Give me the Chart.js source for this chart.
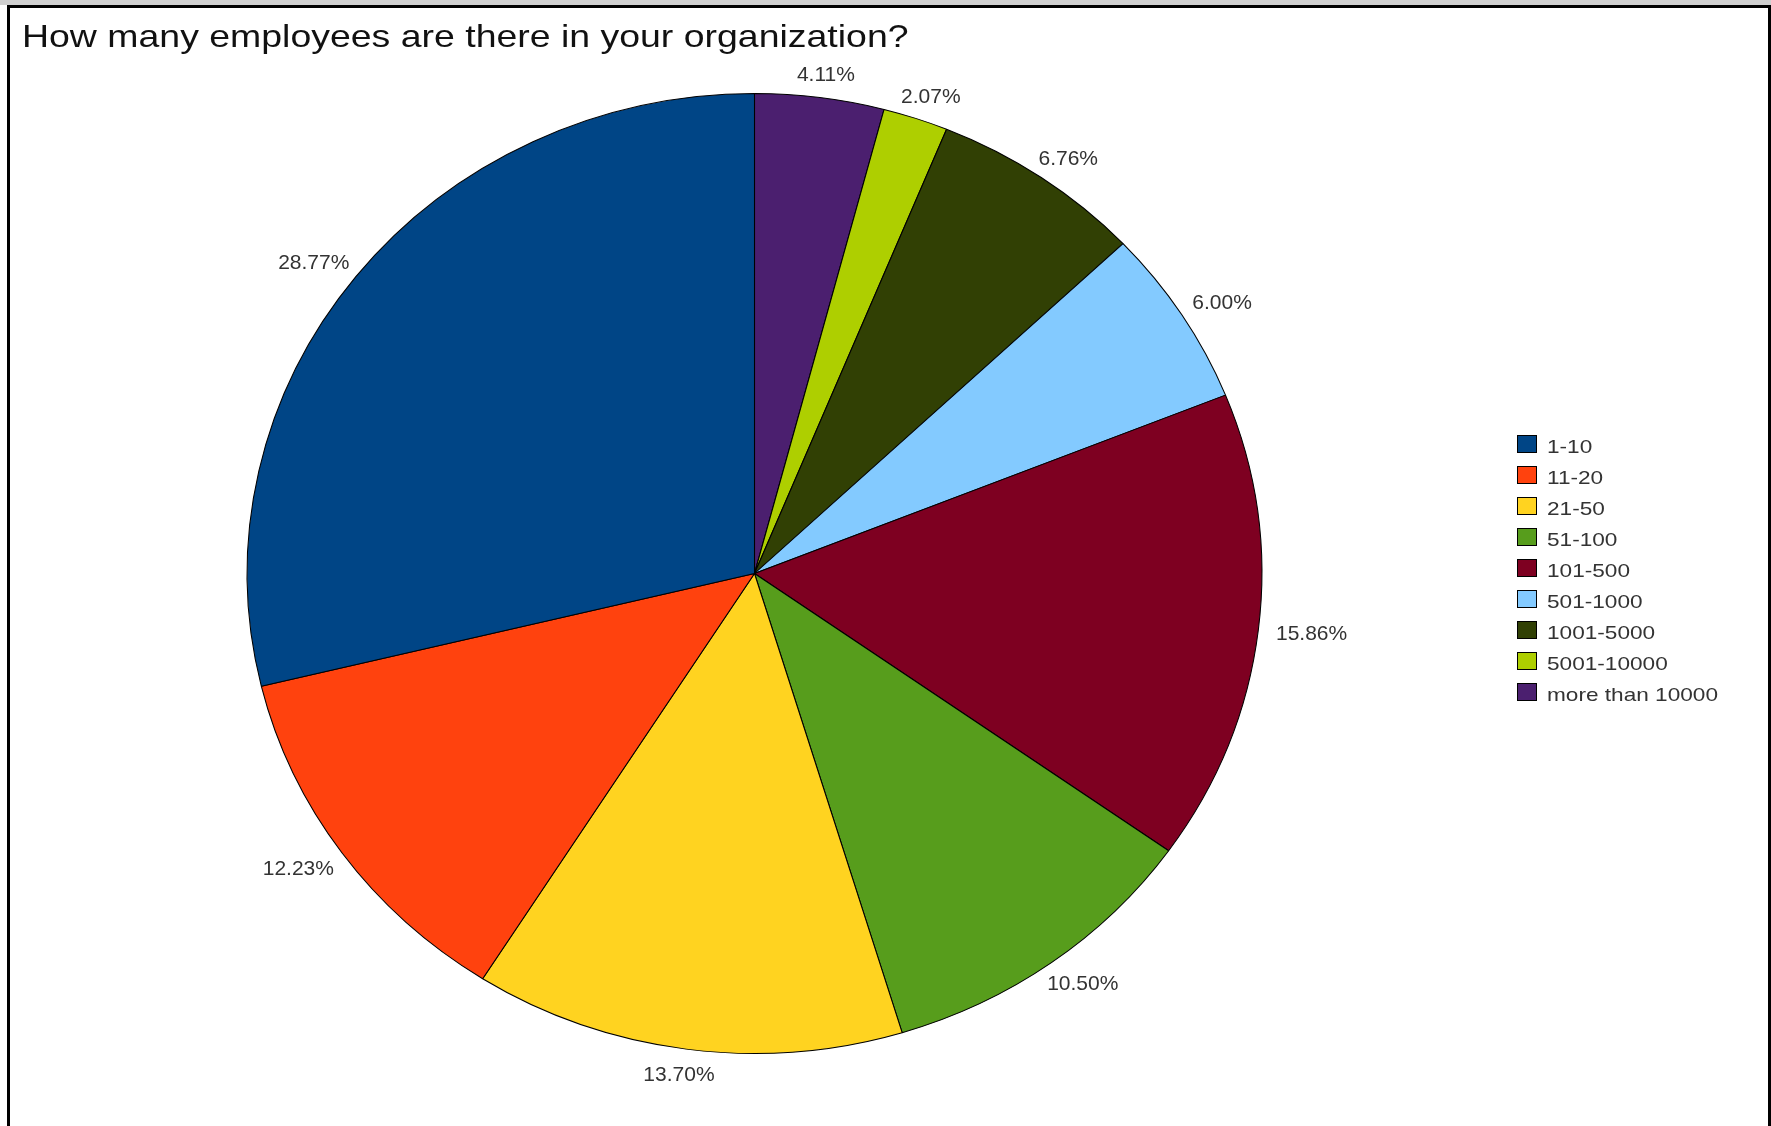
<!DOCTYPE html>
<html>
<head>
<meta charset="utf-8">
<script src="https://cdn.jsdelivr.net/npm/chart.js@4.4.1/dist/chart.umd.min.js"></script>
<style>
  html, body { margin: 0; padding: 0; background: #fff; overflow: hidden; }
  #wrap { position: relative; width: 1771px; height: 1126px; }
  #pieChart { position: absolute; left: 0; top: 0; }
  #strip { position: absolute; left: 0; top: 0; width: 1771px; height: 5px; background: #cfcfcf; }
  #frame { position: absolute; left: 7px; top: 5px; width: 1758px; height: 1121px;
           border-top: 3px solid #000; border-left: 3px solid #000; border-right: 3px solid #000;
           pointer-events: none; }
</style>
</head>
<body>
<div id="wrap">
  <canvas id="pieChart" width="1771" height="1126"></canvas>
  <div id="strip"></div>
  <div id="frame"></div>
</div>
<script>
var chartTitle = "How many employees are there in your organization?";
var categories = ["1-10", "11-20", "21-50", "51-100", "101-500", "501-1000", "1001-5000", "5001-10000", "more than 10000"];
var percentages = [28.77, 12.23, 13.70, 10.50, 15.86, 6.00, 6.76, 2.07, 4.11];
var sliceColors = ["#004586", "#ff420e", "#ffd320", "#579d1c", "#7e0021", "#83caff", "#314004", "#aecf00", "#4b1f6f"];

// the original runs counter-clockwise from 12 o'clock, chart.js runs clockwise
var pieLabels = categories.slice().reverse();
var pieValues = percentages.slice().reverse();
var pieColors = sliceColors.slice().reverse();

var stretchX = 1.057; // pie is a bit wider than tall in the picture

// the picture's text is drawn wider than the font, so squeeze it out sideways
function wideText(ctx, text, x, y, sx){
    ctx.save();
    ctx.translate(x, y);
    ctx.scale(sx, 1);
    ctx.fillText(text, 0, 0);
    ctx.restore();
}

var stretchPlugin = {
    id: 'stretch',
    beforeDatasetsDraw: function(chart){
        var arc = chart.getDatasetMeta(0).data[0];
        var ctx = chart.ctx;
        ctx.save();
        ctx.translate(arc.x, arc.y);
        ctx.scale(stretchX, 1);
        ctx.translate(-arc.x, -arc.y);
    },
    afterDatasetsDraw: function(chart){
        chart.ctx.restore();
    }
};

var textPlugin = {
    id: 'texts',
    afterDraw: function(chart){
        var ctx = chart.ctx;
        ctx.save();

        // title
        ctx.fillStyle = '#111';
        ctx.font = '32px "Liberation Sans", Arial, sans-serif';
        ctx.textAlign = 'left';
        ctx.textBaseline = 'alphabetic';
        wideText(ctx, chartTitle, 22, 47, 1.17);

        // percentage labels outside the slices
        ctx.fillStyle = '#333';
        ctx.font = '21px "Liberation Sans", Arial, sans-serif';
        ctx.textAlign = 'center';
        var meta = chart.getDatasetMeta(0);
        meta.data.forEach(function(arc, i){
            var txt = chart.data.datasets[0].data[i].toFixed(2) + '%';
            var w = ctx.measureText(txt).width;
            var h = 15;
            var a = (arc.startAngle + arc.endAngle) / 2;
            var rr = arc.outerRadius + 17;
            var cx = arc.x + rr * Math.cos(a) * stretchX + Math.cos(a) * w / 2;
            var cy = arc.y + rr * Math.sin(a) + Math.sin(a) * h / 2;
            ctx.fillText(txt, cx, cy + 7.5);
        });

        // legend
        ctx.font = '19px "Liberation Sans", Arial, sans-serif';
        ctx.textAlign = 'left';
        ctx.lineWidth = 1;
        ctx.strokeStyle = '#000';
        for (var i = 0; i < categories.length; i++) {
            var y = 435 + i * 31;
            ctx.fillStyle = sliceColors[i];
            ctx.fillRect(1517, y, 20, 18);
            ctx.strokeRect(1517.5, y + 0.5, 19, 17);
            ctx.fillStyle = '#333';
            wideText(ctx, categories[i], 1547, y + 18, 1.19);
        }
        ctx.restore();
    }
};

var ctx = document.getElementById("pieChart");
var pieChart = new Chart(ctx, {
  type: 'pie',
  data: {
    labels: pieLabels,
    datasets: [{
      data: pieValues,
      backgroundColor: pieColors,
      borderColor: '#000',
      borderWidth: 1
    }]
  },
  options: {
    responsive: false,
    animation: false,
    layout: {
      padding: { left: 274, right: 536, top: 93, bottom: 72 }
    },
    plugins: {
      legend: { display: false },
      title: { display: false },
      tooltip: { enabled: false }
    }
  },
  plugins: [stretchPlugin, textPlugin]
});
</script>
</body>
</html>
